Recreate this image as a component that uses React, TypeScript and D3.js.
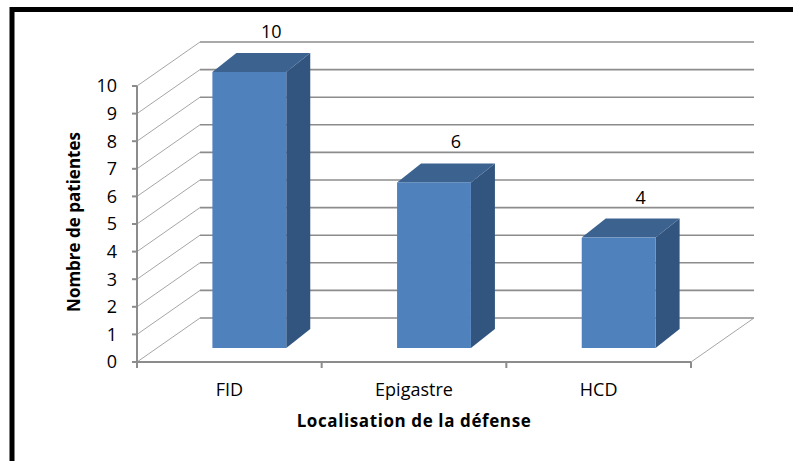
import React from "react";
import * as d3 from "d3";

const categories = ["FID", "Epigastre", "HCD"];
const values = [10, 6, 4];
const yTicks = [0, 1, 2, 3, 4, 5, 6, 7, 8, 9, 10];
const yTitle = "Nombre de patientes";
const xTitle = "Localisation de la défense";

const W = 793;
const H = 461;
const FONT = "'Open Sans', Lato, sans-serif";

export default function App() {
  const y = d3.scaleLinear().domain([0, 10]).range([362, 86]);
  const x = d3.scaleBand<string>().domain(categories).range([137, 691]);
  const bw = x.bandwidth();
  const backDx = 63;
  const backDy = -44;
  const frontShiftX = 20;
  const frontShiftY = -14;
  const barDx = 24;
  const barDy = -19;
  const barW = bw * 0.4;

  const x0 = 137;
  const x1 = 691;
  const y0 = y(0);

  return (
    <svg width={W} height={H} style={{ position: "absolute", left: 0, top: 0, background: "#fff" }}>
      <rect x={0} y={0} width={W} height={H} fill="#fff" />
      {/* back gridlines */}
      {yTicks.map((t) => (
        <line key={"bg" + t} x1={x0 + backDx} x2={x1 + backDx} y1={y(t) + backDy} y2={y(t) + backDy} stroke="#8c8c8c" strokeWidth={1.6} />
      ))}
      {/* left wall diagonals */}
      {yTicks.map((t) => (
        <line key={"lw" + t} x1={x0} x2={x0 + backDx} y1={y(t)} y2={y(t) + backDy} stroke="#a6a6a6" strokeWidth={1} />
      ))}
      {/* floor right diagonal */}
      <line x1={x1} x2={x1 + backDx} y1={y0} y2={y0 + backDy} stroke="#a6a6a6" strokeWidth={1} />
      {/* floor front edge (x axis) */}
      <line x1={x0} x2={x1} y1={y0} y2={y0} stroke="#8c8c8c" strokeWidth={2} />
      {/* category ticks */}
      {[...categories.map((c) => x(c) as number), x1].map((v, i) => (
        <line key={"ct" + i} x1={v} x2={v} y1={y0} y2={y0 + 6} stroke="#8c8c8c" strokeWidth={2} />
      ))}
      {/* y axis */}
      <line x1={x0} x2={x0} y1={y(10)} y2={y0} stroke="#8c8c8c" strokeWidth={2} />
      {yTicks.map((t) => (
        <g key={"yt" + t}>
          <line x1={x0 - 5} x2={x0} y1={y(t)} y2={y(t)} stroke="#8c8c8c" strokeWidth={2} />
          <text x={117} y={y(t)} dy="0.36em" textAnchor="end" fontFamily={FONT} fontSize={18} fill="#000">
            {t}
          </text>
        </g>
      ))}
      {/* bars */}
      {categories.map((c, i) => {
        const v = values[i];
        const bx0 = (x(c) as number) + (bw - barW) / 2 + frontShiftX;
        const bx1 = bx0 + barW;
        const by0 = y0 + frontShiftY;
        const byt = y(v) + frontShiftY;
        const side = `M${bx1},${byt} L${bx1 + barDx},${byt + barDy} L${bx1 + barDx},${by0 + barDy} L${bx1},${by0} Z`;
        const top = `M${bx0},${byt} L${bx0 + barDx},${byt + barDy} L${bx1 + barDx},${byt + barDy} L${bx1},${byt} Z`;
        return (
          <g key={c}>
            <path d={side} fill="#32557f" />
            <path d={top} fill="#3c6290" />
            <rect x={bx0} y={byt} width={barW} height={by0 - byt} fill="#4f81bd" />
            <text x={(bx0 + bx1) / 2 + 22} y={byt + barDy - 15} textAnchor="middle" fontFamily={FONT} fontSize={18} fill="#000">
              {v}
            </text>
          </g>
        );
      })}
      {/* category labels */}
      {categories.map((c) => (
        <text key={"cl" + c} x={(x(c) as number) + bw / 2} y={396} textAnchor="middle" fontFamily={FONT} fontSize={18} fill="#000">
          {c}
        </text>
      ))}
      <text x={414} y={427} textAnchor="middle" fontFamily={FONT} fontSize={17} fontWeight="bold" letterSpacing={0.6} fill="#000">
        {xTitle}
      </text>
      <text transform={`translate(80,222) rotate(-90)`} textAnchor="middle" fontFamily={FONT} fontSize={17} fontWeight="bold" fill="#000">
        {yTitle}
      </text>
      {/* frame */}
      <rect x={12} y={9.5} width={820} height={500} fill="none" stroke="#000" strokeWidth={5} />
    </svg>
  );
}
